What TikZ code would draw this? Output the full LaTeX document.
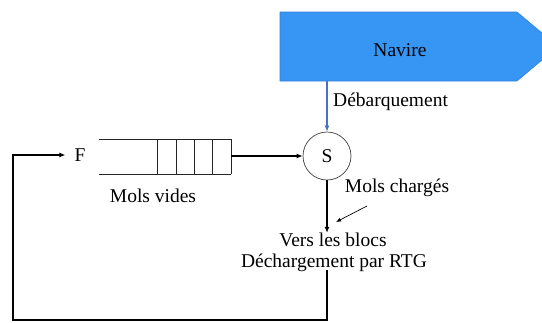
\documentclass[tikz,border=0pt]{standalone}
\usepackage{fontspec}
\setmainfont{Liberation Serif}
\usetikzlibrary{arrows.meta}
\definecolor{shipfill}{HTML}{3796F4}
\definecolor{shipedge}{HTML}{2F7FD8}
\definecolor{unload}{HTML}{4472C4}
\begin{document}
\begin{tikzpicture}[x=1pt,y=-1pt,
  lbl/.style={font=\fontsize{19.5}{23}\selectfont, inner sep=0pt},
  flow/.style={line width=1.9pt, line join=miter, -{Latex[length=6pt,width=5pt]}},
  qline/.style={line width=0.8pt, draw=black!85},
  station/.style={circle, draw=black!75, line width=0.7pt, minimum size=48pt, inner sep=0pt, font=\fontsize{19.5}{23}\selectfont}]
\useasboundingbox (0,0) rectangle (542,322);
\clip (0,0) rectangle (542,322);

% ship arriving at the quay
\filldraw[fill=shipfill, draw=shipedge, line width=0.6pt]
  (280,12) -- (517,12) -- (558,46.5) -- (517,81) -- (280,81) -- cycle;
\node[lbl] (navire) at (400,50) {Navire};
\coordinate (shipout) at (327,81);

% service station
\node[station] (s) at (327,156) {S};

% queue of empty trailers
\draw[qline] (99,139) -- (231,139) (99,174) -- (231,174);
\foreach \xq in {157,176,194,212,231} \draw[qline] (\xq,139) -- (\xq,174);
\coordinate (qout) at (231,156);
\node[lbl] (f) at (80,155) {F};
\node[lbl] (vides) at (153,196) {Mols vides};

% labels
\node[lbl, anchor=west] (deb) at (333,102) {Débarquement};
\node[lbl] (charges) at (397,188) {Mols chargés};
\node[lbl] (vers) at (333,240) {Vers les blocs};
\node[lbl] (dech) at (334,263) {Déchargement par RTG};

% connectors
\draw[unload, line width=1.6pt, -{Latex[length=6pt,width=5pt]}] (shipout) -- (s.north);
\draw[flow] (qout) -- (s.west);
\draw[flow] (s.south) -- (s.south |- vers.north);
\coordinate (mcp) at (367,206);
\coordinate (mct) at (336,222);
\draw[line width=0.7pt, -{Latex[length=5pt,width=4pt]}] (mcp) -- (mct);
\coordinate (ret) at (327,270);
\coordinate (corner) at (13,320);
\draw[flow] (ret) |- (corner) |- ([xshift=-9pt]f.west);
\end{tikzpicture}
\end{document}
